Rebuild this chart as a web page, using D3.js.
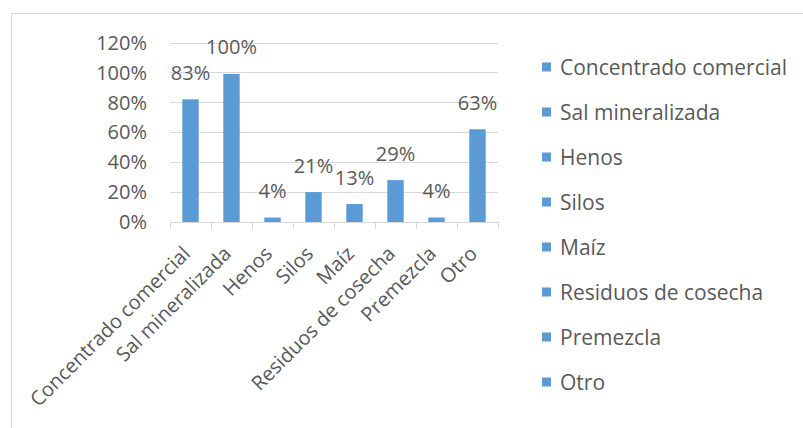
<!DOCTYPE html>
<html>
<head>
<meta charset="utf-8">
<script src="https://cdn.jsdelivr.net/npm/d3@7"></script>
<style>
  body { margin: 0; background: #fff; }
  text { font-family: "Open Sans", sans-serif; fill: #595959; }
</style>
</head>
<body>
<div id="chart"></div>
<script>
var categories = ["Concentrado comercial", "Sal mineralizada", "Henos", "Silos", "Maíz", "Residuos de cosecha", "Premezcla", "Otro"];
var values = [0.83, 1.00, 0.04, 0.21, 0.13, 0.29, 0.04, 0.63];
var yTicks = [0, 0.2, 0.4, 0.6, 0.8, 1.0, 1.2];

function init() {
    var width = 803, height = 428;
    var color = "#5b9bd5";

    var svg = d3.select("#chart")
        .append("svg")
        .attr("width", width)
        .attr("height", height);

    // chart border (cropped on right and bottom)
    svg.append("rect")
        .attr("x", 11.5).attr("y", 13.5)
        .attr("width", 820).attr("height", 440)
        .style("fill", "none")
        .style("stroke", "#d9d9d9")
        .style("stroke-width", 1);

    var x = d3.scaleBand()
        .domain(categories)
        .range([170, 498])
        .paddingInner(0.6)
        .paddingOuter(0.3);

    var y = d3.scaleLinear()
        .domain([0, 1.2])
        .range([222, 42.5]);

    // gridlines
    svg.append("g")
        .selectAll("line")
        .data(yTicks)
        .enter()
        .append("line")
        .attr("x1", 170).attr("x2", 498)
        .attr("y1", d => Math.round(y(d)) + 0.5)
        .attr("y2", d => Math.round(y(d)) + 0.5)
        .style("stroke", "#d9d9d9")
        .style("stroke-width", 1);

    // y labels
    svg.append("g")
        .selectAll("text")
        .data(yTicks)
        .enter()
        .append("text")
        .attr("x", 147)
        .attr("y", d => y(d))
        .attr("dy", "0.36em")
        .attr("text-anchor", "end")
        .style("font-size", "20px")
        .text(d => Math.round(d * 100) + "%");

    // category tick marks
    var edges = categories.map(c => x(c) - x.step() * x.paddingInner() / 2);
    edges.push(498);
    svg.append("g")
        .selectAll("line")
        .data(edges)
        .enter()
        .append("line")
        .attr("x1", d => Math.round(d) + 0.5)
        .attr("x2", d => Math.round(d) + 0.5)
        .attr("y1", 222).attr("y2", 229)
        .style("stroke", "#d9d9d9");

    // bars
    svg.append("g")
        .selectAll("rect")
        .data(values)
        .enter()
        .append("rect")
        .attr("x", (d, i) => x(categories[i]))
        .attr("y", d => y(d) + 1.5)
        .attr("width", x.bandwidth())
        .attr("height", d => y(0) - y(d) - 1.5)
        .style("fill", color);

    // value labels
    svg.append("g")
        .selectAll("text")
        .data(values)
        .enter()
        .append("text")
        .attr("x", (d, i) => x(categories[i]) + x.bandwidth() / 2)
        .attr("y", d => y(d) - 18)
        .attr("text-anchor", "middle")
        .style("font-size", "20px")
        .text(d => Math.round(d * 100) + "%");

    // rotated category labels
    svg.append("g")
        .selectAll("text")
        .data(categories)
        .enter()
        .append("text")
        .attr("transform", d => "translate(" + (x(d) + x.bandwidth() / 2 - 4) + ",250) rotate(-45)")
        .attr("text-anchor", "end")
        .attr("dy", "0.35em")
        .style("font-size", "20px")
        .text(d => d);

    // legend
    var legend = svg.append("g")
        .selectAll("g")
        .data(categories)
        .enter()
        .append("g")
        .attr("transform", (d, i) => "translate(542," + (67 + i * 45) + ")");

    legend.append("rect")
        .attr("x", 0).attr("y", -4.5)
        .attr("width", 9).attr("height", 9)
        .style("fill", color);

    legend.append("text")
        .attr("x", 18)
        .attr("dy", "0.36em")
        .style("font-size", "21px")
        .text(d => d);
}

window.onload = init;
</script>
</body>
</html>
